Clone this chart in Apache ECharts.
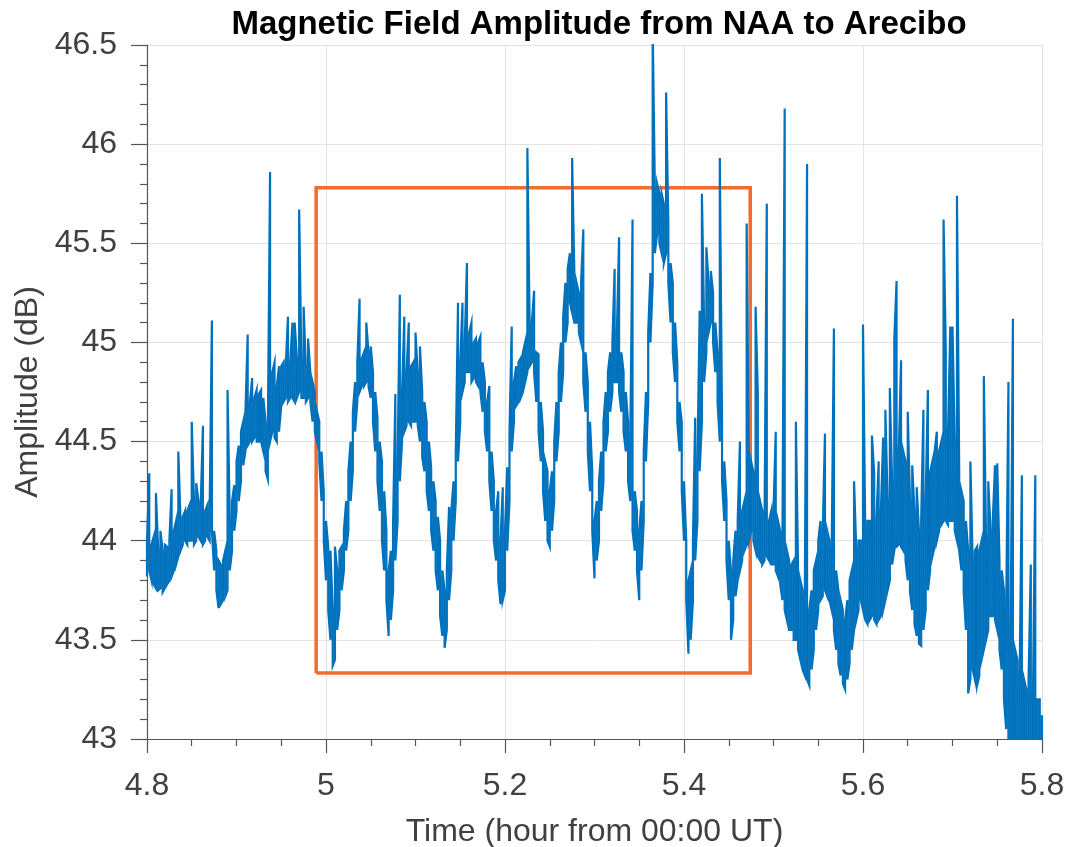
<!DOCTYPE html>
<html>
<head>
<meta charset="utf-8">
<script src="https://cdn.jsdelivr.net/npm/echarts@6/dist/echarts.min.js"></script>
<style>html,body{margin:0;padding:0;background:#fff;}#chart{width:1069px;height:847px;}</style>
</head>
<body>
<div id="chart"></div>
<script>
// Sample grid of the recording (hours from 00:00 UT)
const timeStart = 4.8;
const timeStep = 0.0025;
// Per-sample minimum amplitude (dB)
const amplitudeLow = [
43.82,43.85,43.8,43.78,43.76,43.75,43.76,43.74,43.76,43.78,
43.8,43.82,43.85,43.88,43.92,43.95,43.98,44.0,43.98,44.0,
44.0,43.98,44.0,44.02,44.0,43.98,44.0,44.02,44.0,44.05,
43.85,43.75,43.66,43.68,43.7,43.72,43.75,43.85,43.95,44.05,
44.15,44.2,44.3,44.38,44.45,44.48,44.5,44.5,44.52,44.5,
44.5,44.5,44.45,44.35,44.31,44.5,44.55,44.52,44.5,44.55,
44.68,44.7,44.72,44.7,44.72,44.72,44.7,44.72,44.75,44.72,
44.72,44.7,44.72,44.7,44.6,44.55,44.5,44.4,44.2,44.0,
43.8,43.65,43.5,43.37,43.4,43.55,43.65,43.75,43.85,43.95,
44.05,44.2,44.35,44.55,44.7,44.75,44.78,44.78,44.8,44.78,
44.72,44.6,44.45,44.3,44.15,44.0,43.85,43.7,43.52,43.6,
43.75,43.9,44.1,44.3,44.5,44.55,44.58,44.6,44.58,44.6,
44.6,44.58,44.5,44.42,44.35,44.25,44.15,44.05,43.95,43.85,
43.75,43.62,43.52,43.46,43.55,43.7,43.85,44.0,44.2,44.4,
44.6,44.75,44.8,44.85,44.85,44.8,44.82,44.8,44.78,44.75,
44.65,44.55,44.45,44.3,44.15,44.0,43.9,43.8,43.68,43.7,
43.75,43.95,44.2,44.45,44.6,44.68,44.7,44.72,44.75,44.8,
44.85,44.88,44.9,44.85,44.7,44.55,44.4,44.25,44.1,44.0,
43.97,44.05,44.2,44.4,44.55,44.7,44.85,45.0,45.1,45.2,
45.15,45.1,45.1,45.05,45.0,44.8,44.65,44.45,44.25,44.05,
43.81,43.9,44.0,44.15,44.3,44.45,44.55,44.65,44.75,44.8,
44.8,44.75,44.65,44.55,44.45,44.3,44.2,44.05,43.95,43.85,
43.7,43.85,44.1,44.4,44.7,45.0,45.3,45.45,45.55,45.5,
45.45,45.4,45.45,45.3,45.1,44.95,44.8,44.6,44.45,44.25,
44.0,43.7,43.43,43.5,43.7,43.9,44.1,44.35,44.6,44.8,
44.95,45.05,45.1,45.0,44.85,44.7,44.5,44.3,44.1,43.9,
43.7,43.5,43.6,43.72,43.8,43.85,43.9,43.95,43.98,44.0,
44.05,44.0,43.95,43.92,43.9,43.88,43.9,43.92,43.9,43.88,
43.88,43.85,43.82,43.78,43.7,43.65,43.6,43.55,43.55,43.5,
43.5,43.45,43.4,43.35,43.32,43.3,43.27,43.35,43.45,43.55,
43.65,43.7,43.72,43.75,43.72,43.7,43.65,43.55,43.45,43.38,
43.32,43.28,43.25,43.3,43.38,43.45,43.55,43.6,43.65,43.7,
43.65,43.6,43.58,43.6,43.62,43.6,43.58,43.6,43.62,43.65,
43.7,43.75,43.8,43.88,43.95,43.97,43.98,43.97,43.95,43.9,
43.8,43.74,43.65,43.58,43.52,43.48,43.47,43.55,43.65,43.75,
43.85,43.92,43.97,44.0,44.05,44.08,44.1,44.1,44.08,44.1,
44.1,44.05,44.0,43.95,43.85,43.74,43.55,43.23,43.3,43.35,
43.3,43.27,43.32,43.4,43.45,43.5,43.55,43.62,43.62,43.6,
43.55,43.45,43.35,43.2,43.05,42.95,42.9,42.9,42.9,42.9,
42.9,42.9,42.9,42.9,42.9,42.9,42.9,42.9,42.9,42.95,43.0
];
// Per-sample maximum amplitude (dB) (spikes included)
const amplitudeHigh = [
44.0,44.34,43.98,44.02,44.24,43.95,44.05,43.95,43.98,43.97,
44.0,44.26,44.05,44.1,44.45,44.1,44.12,44.15,44.15,44.18,
44.6,44.2,44.29,44.2,44.18,44.58,44.15,44.18,44.15,45.11,
44.05,43.95,43.9,43.88,43.9,43.95,44.76,44.1,44.2,44.28,
44.4,44.48,44.55,44.6,44.65,45.04,44.7,44.82,44.72,44.76,
44.74,44.76,44.72,44.6,44.55,45.86,44.85,44.9,44.78,44.88,
44.88,44.9,44.88,45.13,44.9,45.1,45.1,44.92,45.67,44.9,
45.18,44.88,45.02,44.85,44.8,44.75,44.65,44.6,44.45,44.25,
44.1,43.97,43.95,43.65,43.97,43.85,43.95,43.97,44.05,44.2,
44.35,44.5,44.65,44.8,44.9,45.22,44.92,44.95,45.1,44.95,
44.98,44.85,44.75,44.62,44.5,44.4,44.25,44.05,43.85,43.95,
44.1,44.74,44.4,45.24,44.75,45.13,44.85,45.1,44.88,44.9,
45.05,44.85,44.98,44.75,44.7,44.6,44.5,44.37,44.3,44.2,
44.12,44.0,43.85,43.75,43.85,44.17,44.15,44.3,44.45,45.2,
44.9,45.2,45.0,45.4,45.05,45.1,45.0,45.02,45.0,45.03,
44.9,44.8,44.7,44.78,44.45,44.3,44.15,44.25,44.0,44.27,
44.05,44.37,44.55,45.08,44.8,44.88,44.9,44.92,44.95,45.0,
45.98,45.1,45.1,45.26,44.95,44.94,44.7,44.55,44.4,44.35,
44.25,44.35,44.5,44.7,44.85,45.0,45.13,45.3,45.37,45.45,
45.93,45.35,45.3,45.25,45.3,45.57,44.95,44.8,44.6,44.35,
44.1,44.2,44.3,44.45,44.6,44.75,44.85,44.95,45.0,45.37,
45.05,45.53,44.95,44.85,44.75,44.6,44.5,45.62,44.25,44.15,
44.05,44.2,44.45,44.75,45.05,45.35,46.6,45.75,45.8,45.75,
45.75,45.7,46.26,45.6,45.4,45.3,45.1,44.9,44.7,44.6,
44.3,44.0,43.8,43.85,44.0,44.62,44.4,45.16,45.75,45.1,
45.48,45.3,45.36,45.25,45.1,44.95,45.93,44.6,44.4,44.2,
44.0,43.85,43.9,44.05,44.1,44.5,44.15,44.2,45.6,44.35,
44.4,44.35,45.18,44.74,44.2,44.15,44.1,45.7,44.1,44.15,
44.15,44.55,44.1,44.05,44.0,46.18,43.95,43.9,43.88,43.9,
44.6,43.85,43.8,43.75,43.7,45.9,43.65,43.75,43.85,43.9,
44.0,44.1,44.05,44.54,44.05,44.0,43.95,45.07,43.85,43.75,
43.7,43.65,43.6,43.7,43.8,43.85,44.3,43.95,44.0,44.0,
45.09,44.05,44.1,44.1,44.53,44.34,44.1,44.4,44.15,44.52,
44.66,44.2,44.77,44.3,45.02,45.31,44.45,44.91,44.45,44.4,
44.65,44.2,44.38,44.15,44.27,44.05,44.1,44.66,44.2,44.76,
44.35,44.4,44.45,44.55,44.45,44.5,45.62,44.96,44.55,45.08,
45.08,44.5,45.74,44.35,44.25,44.2,44.1,43.95,44.4,43.9,
43.95,43.97,43.95,44.0,44.83,44.0,44.3,44.05,44.1,44.38,
44.39,43.9,43.85,43.75,43.65,44.8,43.55,45.12,43.45,43.4,
43.3,44.33,43.3,43.25,43.3,43.88,43.25,44.33,43.2,43.2,43.12
];
// Highlight box (time range and amplitude range)
const boxTimes = [4.989, 5.474];
const boxLevels = [43.333, 45.78];
// Axis ranges and tick spacing
const xRange = [4.8, 5.8];
const xTickStep = 0.2;
const yRange = [43, 46.5];
const yTickStep = 0.5;

// Each sample is drawn as a vertical min-max stroke, alternating direction
const lineData = [];
amplitudeLow.forEach((lo, i) => {
  const t = +(timeStart + i * timeStep).toFixed(4);
  const hi = amplitudeHigh[i];
  if (i % 2 === 0) { lineData.push([t, lo], [t, hi]); }
  else { lineData.push([t, hi], [t, lo]); }
});
const boxData = [
  [boxTimes[0], boxLevels[0]], [boxTimes[0], boxLevels[1]],
  [boxTimes[1], boxLevels[1]], [boxTimes[1], boxLevels[0]],
  [boxTimes[0], boxLevels[0]]
];

const FONT = "'Liberation Sans', Arial, Helvetica, sans-serif";
const chart = echarts.init(document.getElementById('chart'), null, {renderer: 'canvas'});
chart.setOption({
  animation: false,
  backgroundColor: '#ffffff',
  title: {
    text: 'Magnetic Field Amplitude from NAA to Arecibo',
    left: 594, top: 3, textAlign: 'center',
    textStyle: {fontFamily: FONT, fontSize: 33, fontWeight: 'bold', color: '#000'}
  },
  grid: {left: 147, right: 27, top: 45, bottom: 108, containLabel: false, outerBoundsMode: 'none'},
  xAxis: {
    type: 'value', min: xRange[0], max: xRange[1], interval: xTickStep,
    name: 'Time (hour from 00:00 UT)', nameLocation: 'middle', nameGap: 77,
    nameTextStyle: {fontFamily: FONT, fontSize: 32, color: '#404040'},
    axisLine: {show: true, lineStyle: {color: '#555', width: 1.2}},
    axisTick: {show: true, length: 14, lineStyle: {color: '#555', width: 1.2}},
    minorTick: {show: true, splitNumber: 4, length: 7, lineStyle: {color: '#555', width: 1.2}},
    axisLabel: {fontFamily: FONT, fontSize: 32, color: '#404040', margin: 31},
    splitLine: {show: true, lineStyle: {color: '#e3e3e3', width: 1}}
  },
  yAxis: {
    type: 'value', min: yRange[0], max: yRange[1], interval: yTickStep,
    name: 'Amplitude (dB)', nameLocation: 'middle', nameGap: 100,
    nameTextStyle: {fontFamily: FONT, fontSize: 32, color: '#404040'},
    axisLine: {show: true, lineStyle: {color: '#555', width: 1.2}},
    axisTick: {show: true, length: 16, lineStyle: {color: '#555', width: 1.2}},
    minorTick: {show: true, splitNumber: 5, length: 7, lineStyle: {color: '#555', width: 1.2}},
    axisLabel: {fontFamily: FONT, fontSize: 32, color: '#404040', margin: 30},
    splitLine: {show: true, lineStyle: {color: '#e3e3e3', width: 1}}
  },
  series: [
    {
      type: 'line', data: boxData, showSymbol: false, symbol: 'none',
      lineStyle: {color: '#F26B33', width: 3.5, join: 'miter'}, z: 2, silent: true
    },
    {
      type: 'line', data: lineData, showSymbol: false, symbol: 'none', sampling: null,
      lineStyle: {color: '#0072BD', width: 2.2, join: 'miter'}, clip: true, z: 3
    }
  ]
});
</script>
</body>
</html>
